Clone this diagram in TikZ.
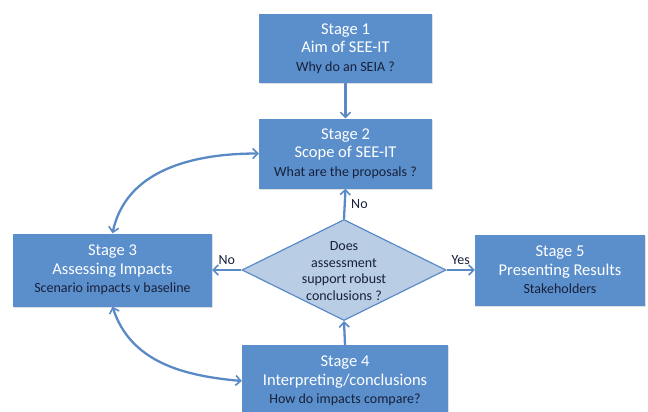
\documentclass[tikz,border=0pt]{standalone}
\usepackage{fontspec}
\setmainfont{Carlito}
\usetikzlibrary{arrows.meta,shapes.geometric,shadows}
\definecolor{boxblue}{HTML}{5B8FCC}
\definecolor{arrowblue}{HTML}{5A8AC6}
\definecolor{diafill}{HTML}{B9CDE5}
\definecolor{darktext}{HTML}{17203A}
\begin{document}
\begin{tikzpicture}[x=1pt,y=-1pt,
  stagebox/.style={fill=boxblue, draw=none, align=center, text=white, inner sep=0pt,
    font=\fontsize{16.5}{18.5}\selectfont,
    drop shadow={shadow xshift=1.2pt, shadow yshift=-1.2pt, opacity=0.25}},
  arr/.style={draw=arrowblue, line width=2.3pt, -{Straight Barb[length=5pt,width=10pt,line width=1.6pt]}},
  darr/.style={draw=arrowblue, line width=2.3pt, {Straight Barb[length=5pt,width=10pt,line width=1.6pt]}-{Straight Barb[length=5pt,width=10pt,line width=1.6pt]}},
  lbl/.style={text=darktext, font=\fontsize{14}{16}\selectfont}
]
\useasboundingbox (0,0) rectangle (648,412);
\newcommand{\subl}[1]{{\color{darktext}\fontsize{14}{18.5}\selectfont #1}}
\node[stagebox, minimum width=173pt, minimum height=69pt] (s1) at (345.5,48.5)
  {Stage 1\\Aim of SEE-IT\\\subl{Why do an SEIA ?}};
\node[stagebox, minimum width=173pt, minimum height=70pt] (s2) at (345.5,153.5)
  {Stage 2\\Scope of SEE-IT\\\subl{What are the proposals ?}};
\node[stagebox, minimum width=199pt, minimum height=73pt] (s3) at (112.5,270)
  {Stage 3\\Assessing Impacts\\\subl{Scenario impacts v baseline}};
\node[stagebox, minimum width=170pt, minimum height=71pt] (s5) at (560,270)
  {Stage 5\\Presenting Results\\\subl{Stakeholders}};
\node[stagebox, minimum width=206pt, minimum height=72pt] (s4) at (345,381)
  {Stage 4\\Interpreting/conclusions\\\subl{How do impacts compare?}};
\node[diamond, draw=arrowblue, line width=1.2pt, fill=diafill, minimum width=204pt,
  minimum height=101pt, inner sep=0pt] (d) at (344,270) {};
\node[align=center, text=darktext, font=\fontsize{14}{16.5}\selectfont] (dq) at (344,271)
  {Does\\assessment\\support robust\\conclusions ?};
\draw[arr] (s1) -- (s2);
\draw[arr] (d.north) -- (s2.south) node[midway, right, lbl, xshift=2pt] {No};
\draw[arr] (d.west) -- (s3.east) node[midway, above, lbl, yshift=1pt] {No};
\draw[arr] (d.east) -- (s5.west) node[midway, above, lbl, yshift=1pt] {Yes};
\draw[arr] (s4.north) -- (d.south);
\draw[darr] (s3.north) to[out=78,in=180] (s2.west);
\draw[darr] (s3.south) to[out=-72,in=175] (s4.west);
\end{tikzpicture}
\end{document}
